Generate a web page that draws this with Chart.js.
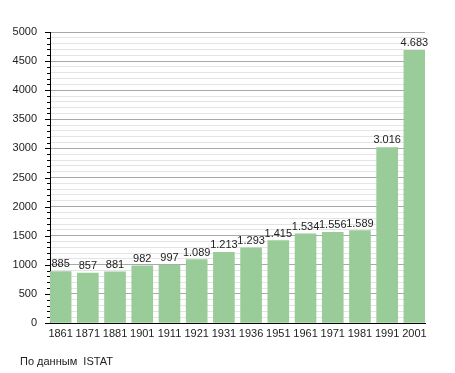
<!DOCTYPE html>
<html>
<head>
<meta charset="utf-8">
<script src="https://cdn.jsdelivr.net/npm/chart.js@4.4.1/dist/chart.umd.min.js"></script>
<style>
  html, body { margin: 0; padding: 0; background: #fff; }
  #wrap { position: relative; width: 455px; height: 373px; }
  #footer { position: absolute; left: 20px; top: 355px; font: 11px "Liberation Sans", Arial, sans-serif; color: #222; white-space: pre; }
</style>
</head>
<body>
<div id="wrap">
  <canvas id="c" width="455" height="373"></canvas>
  <div id="footer">По данным  ISTAT</div>
</div>
<script>
const years = ['1861','1871','1881','1901','1911','1921','1931','1936','1951','1961','1971','1981','1991','2001'];
const population = [885, 857, 881, 982, 997, 1089, 1213, 1293, 1415, 1534, 1556, 1589, 3016, 4683];
const yMin = 0, yMax = 5000, yMajorStep = 500, yMinorStep = 100;

const FONT = '"Liberation Sans", Arial, sans-serif';
const fmt = v => String(v).replace(/\B(?=(\d{3})+(?!\d))/g, '.');

const axisTicks = {
  id: 'axisTicks',
  afterDraw(chart) {
    const s = chart.scales.y;
    const ctx = chart.ctx;
    ctx.save();
    ctx.strokeStyle = '#000';
    ctx.lineWidth = 1;
    s.ticks.forEach(t => {
      const y = Math.round(s.getPixelForValue(t.value)) + 0.5;
      const len = (t.value % yMajorStep === 0) ? 5 : 3;
      ctx.beginPath();
      ctx.moveTo(s.right - len, y);
      ctx.lineTo(s.right, y);
      ctx.stroke();
    });
    ctx.restore();
  }
};

const valueLabels = {
  id: 'valueLabels',
  afterDatasetsDraw(chart) {
    const ctx = chart.ctx;
    const meta = chart.getDatasetMeta(0);
    ctx.save();
    ctx.font = '11px ' + FONT;
    ctx.fillStyle = '#222';
    ctx.textAlign = 'center';
    ctx.textBaseline = 'alphabetic';
    meta.data.forEach((bar, i) => {
      ctx.fillText(fmt(population[i]), bar.x, bar.y - 4);
    });
    ctx.restore();
  }
};

new Chart(document.getElementById('c'), {
  type: 'bar',
  data: {
    datasets: [{
      data: population.map((v, i) => ({ x: i, y: v })),
      backgroundColor: '#99cc99',
      borderWidth: 0,
      barThickness: 21
    }]
  },
  options: {
    responsive: false,
    animation: false,
    layout: { padding: { top: 32, right: 30, bottom: 30, left: 0 } },
    plugins: { legend: { display: false }, tooltip: { enabled: false }, title: { display: false } },
    scales: {
      x: {
        type: 'linear',
        offset: false,
        min: -0.39,
        max: 13.39,
        grid: { display: false, drawTicks: false, offset: false },
        border: { display: true, color: '#000', width: 1 },
        ticks: {
          stepSize: 1,
          includeBounds: false,
          autoSkip: false,
          maxRotation: 0,
          padding: 4,
          color: '#222',
          font: { family: FONT, size: 11 },
          callback: v => Number.isInteger(v) && years[v] !== undefined ? years[v] : ''
        },
        afterFit(s) { s.height = 20; }
      },
      y: {
        min: yMin,
        max: yMax,
        grid: {
          drawTicks: false,
          color: ctx => (ctx.tick && ctx.tick.value % yMajorStep === 0) ? '#a8a8a8' : '#e4e4e4',
          lineWidth: 1
        },
        border: { display: true, color: '#000', width: 1 },
        ticks: {
          stepSize: yMinorStep,
          autoSkip: false,
          padding: 13,
          color: '#222',
          font: { family: FONT, size: 11 },
          callback: v => (v % yMajorStep === 0) ? String(v) : ''
        },
        afterFit(s) { s.width = 50; }
      }
    }
  },
  plugins: [axisTicks, valueLabels]
});
</script>
</body>
</html>
